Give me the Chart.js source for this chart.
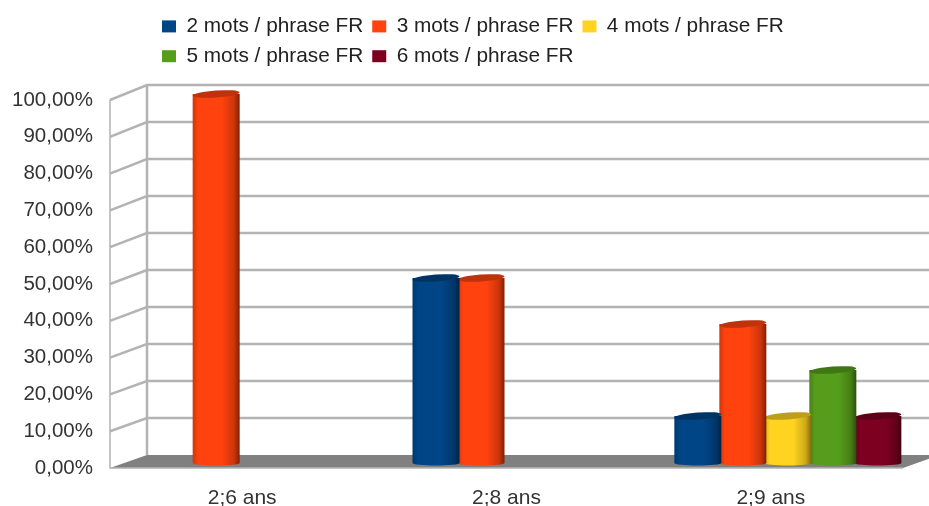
<!DOCTYPE html>
<html>
<head>
<meta charset="utf-8">
<script src="https://cdn.jsdelivr.net/npm/chart.js@4/dist/chart.umd.js"></script>
<style>
  html, body { margin: 0; padding: 0; background: #fff; }
  #wrap { width: 929px; height: 506px; }
</style>
</head>
<body>
<div id="wrap"><canvas id="chart"></canvas></div>
<script>
const categories = ["2;6 ans", "2;8 ans", "2;9 ans"];
const yTickLabels = ["0,00%", "10,00%", "20,00%", "30,00%", "40,00%", "50,00%", "60,00%", "70,00%", "80,00%", "90,00%", "100,00%"];
const seriesNames = ["2 mots / phrase FR", "3 mots / phrase FR", "4 mots / phrase FR", "5 mots / phrase FR", "6 mots / phrase FR"];
const seriesColors = ["#004586", "#ff420e", "#ffd320", "#579d1c", "#7e0021"];
const mots2 = [null, 50, 12.5];
const mots3 = [100, 50, 37.5];
const mots4 = [null, null, 12.5];
const mots5 = [null, null, 25];
const mots6 = [null, null, 12.5];

// the original groups are not centred on their labels
const groupShift = [-26, -48, 17];
// 3D look
const depthX = 37, depthY = 13;

function shade(hex, f) {
    const n = parseInt(hex.slice(1), 16);
    const c = [n >> 16, (n >> 8) & 255, n & 255].map(v => Math.round(v * f));
    return `rgb(${c[0]},${c[1]},${c[2]})`;
}

// bars as cylinders
Chart.BarElement.prototype.draw = function (ctx) {
    const col = this.options.backgroundColor;
    const w = this.width + 2;
    const left = this.x - w / 2, right = this.x + w / 2;
    const top = this.y - 6, bottom = this.base - 5;
    const grad = ctx.createLinearGradient(left, 0, right, 0);
    grad.addColorStop(0, shade(col, 0.82));
    grad.addColorStop(0.12, col);
    grad.addColorStop(0.62, col);
    grad.addColorStop(0.88, shade(col, 0.8));
    grad.addColorStop(1, shade(col, 0.5));
    ctx.save();
    ctx.fillStyle = grad;
    ctx.beginPath();
    ctx.moveTo(left, top);
    ctx.lineTo(left, bottom);
    ctx.ellipse(this.x, bottom, w / 2, 2.5, 0, Math.PI, 0, true);
    ctx.lineTo(right, top);
    ctx.closePath();
    ctx.fill();
    ctx.fillStyle = shade(col, 0.75);
    ctx.beginPath();
    ctx.ellipse(this.x, top, w / 2, 3.5, -0.07, 0, Math.PI * 2);
    ctx.fill();
    ctx.restore();
};

const walls3d = {
    id: 'walls3d',
    beforeLayout(chart) {
        // legend wraps after 3 items and keeps room above the plot
        const lg = chart.legend;
        if (lg.patched) return;
        lg.patched = true;
        const up = lg.update;
        lg.update = function (w, h, m) {
            up.call(this, 660, h, m);
            this.height = 93;
        };
    },
    afterLayout(chart) {
        chart.legend.left = 153;
    },
    afterDatasetsUpdate(chart) {
        chart.getSortedVisibleDatasetMetas().forEach(meta => {
            meta.data.forEach((bar, i) => { bar.x += groupShift[i]; });
        });
    },
    beforeDatasetsDraw(chart) {
        const ctx = chart.ctx, y = chart.scales.y, area = chart.chartArea;
        const l = area.left, r = area.right;
        const y0 = y.getPixelForValue(0), y1 = y.getPixelForValue(100);
        // back wall is a touch taller than the front edge
        const back = v => y.getPixelForValue(v) - depthY - v * 0.02;
        ctx.save();
        // floor
        ctx.fillStyle = '#808080';
        ctx.beginPath();
        ctx.moveTo(l, y0);
        ctx.lineTo(l + depthX, back(0));
        ctx.lineTo(r + depthX, back(0));
        ctx.lineTo(r, y0);
        ctx.closePath();
        ctx.fill();
        // grid on side and back walls
        ctx.strokeStyle = '#b3b3b3';
        ctx.lineWidth = 2.5;
        y.ticks.forEach(t => {
            if (t.value > 0) {
                ctx.beginPath();
                ctx.moveTo(l, y.getPixelForValue(t.value));
                ctx.lineTo(l + depthX, back(t.value));
                ctx.lineTo(r + depthX, back(t.value));
                ctx.stroke();
            }
        });
        ctx.beginPath();
        ctx.moveTo(l + depthX, back(100));
        ctx.lineTo(l + depthX, back(0));
        ctx.stroke();
        ctx.lineWidth = 1.5;
        ctx.beginPath();
        ctx.moveTo(l, y1);
        ctx.lineTo(l, y0);
        ctx.lineTo(r, y0);
        ctx.stroke();
        ctx.restore();
    }
};

const seriesData = [mots2, mots3, mots4, mots5, mots6];

new Chart(document.getElementById('chart').getContext('2d'), {
    type: 'bar',
    data: {
        labels: categories,
        datasets: seriesNames.map((name, i) => ({
            label: name,
            data: seriesData[i],
            backgroundColor: seriesColors[i],
            borderWidth: 0,
            barThickness: 45,
            clip: false
        }))
    },
    options: {
        responsive: true,
        maintainAspectRatio: false,
        animation: false,
        skipNull: true,
        layout: { padding: { top: 7, right: 26, left: 0, bottom: 0 } },
        scales: {
            x: {
                grid: { display: false },
                border: { display: false },
                afterFit: axis => { axis.height = 38; },
                ticks: { color: '#333', padding: 10, font: { family: 'Liberation Sans', size: 21 }, maxRotation: 0 }
            },
            y: {
                min: 0,
                max: 100,
                grid: { display: false },
                border: { display: false },
                afterFit: axis => { axis.width = 110; },
                ticks: {
                    stepSize: 10,
                    padding: 9,
                    color: '#333',
                    font: { family: 'Liberation Sans', size: 20.5 },
                    callback: (v, i) => yTickLabels[i]
                }
            }
        },
        plugins: {
            tooltip: { enabled: false },
            legend: {
                position: 'top',
                align: 'start',
                labels: {
                    boxWidth: 14,
                    boxHeight: 12,
                    padding: 9,
                    color: '#222',
                    font: { family: 'Liberation Sans', size: 20.8 }
                }
            }
        }
    },
    plugins: [walls3d]
});
</script>
</body>
</html>
